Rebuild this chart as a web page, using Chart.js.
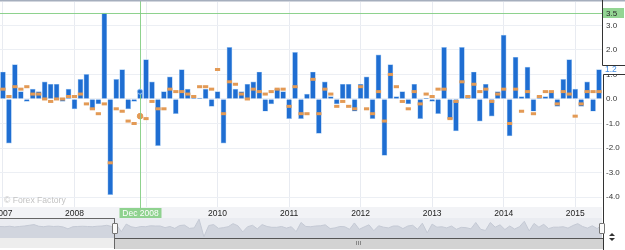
<!DOCTYPE html>
<html>
<head>
<meta charset="utf-8">
<script src="https://cdn.jsdelivr.net/npm/chart.js@4.4.1/dist/chart.umd.min.js"></script>
<style>
  html, body { margin: 0; padding: 0; background: #ffffff; }
  #wrap { position: relative; width: 625px; height: 250px; overflow: hidden; background: #fff; }
  #main { position: absolute; left: 0; top: 0; }
  #navbg { position: absolute; left: 0; top: 218px; width: 602px; height: 20px; background: #eaecf1; }
  #nav { position: absolute; left: 0; top: 218px; }
  #trackL { position: absolute; left: 0; top: 238px; width: 115px; height: 10px; background: #ededed; }
  #thumb { position: absolute; left: 115px; top: 238px; width: 488px; height: 11px; background: #d3d3d3; border-top: 1px solid #555; box-sizing: border-box; }
  #outlineL { position: absolute; left: 0; top: 218px; width: 115px; height: 31px; border-top: 1px solid #666; border-right: 1px solid #666; box-sizing: border-box; }
  #axisLow { position: absolute; left: 603px; top: 218px; width: 1px; height: 32px; background: #333; }
  .handle { position: absolute; top: 223px; width: 4px; height: 9px; background: #fafafa; border: 1px solid #777; border-radius: 1px; }
  #grip { position: absolute; left: 356px; top: 241px; width: 5px; height: 4px;
          background: repeating-linear-gradient(90deg, #888 0 1px, transparent 1px 2px); }
  .tri { position: absolute; left: 609px; width: 0; height: 0; border-left: 3px solid transparent; border-right: 3px solid transparent; }
  #up { top: 233px; border-bottom: 3px solid #333; }
  #down { top: 238px; border-top: 3px solid #333; }
</style>
</head>
<body>
<div id="wrap">
  <canvas id="main" width="625" height="218"></canvas>
  <div id="navbg"></div>
  <canvas id="nav" width="602" height="20"></canvas>
  <div id="trackL"></div>
  <div id="thumb"></div>
  <div id="grip"></div>
  <div id="outlineL"></div>
  <div id="axisLow"></div>
  <div class="handle" style="left:112px"></div>
  <div class="handle" style="left:599px"></div>
  <div class="tri" id="up"></div>
  <div class="tri" id="down"></div>
</div>
<script>
// ---------------- data ----------------
const monthNames = ['Jan','Feb','Mar','Apr','May','Jun','Jul','Aug','Sep','Oct','Nov','Dec'];
const years = ['2007','2008','2009','2010','2011','2012','2013','2014','2015'];

// actual values (blue bars), monthly Jan 2007 .. May 2015
const actual = [
  1.1, -1.8, 1.4, 0.3, -0.1, 0.4, 0.3, 0.7, 0.6, 0.6, -0.1, 0.4,   // 2007
  -0.4, 0.8, 1.0, -0.4, -0.2, 3.5, -3.9, 0.8, 1.2, -0.4, -0.1, 0.3, // 2008
  1.6, 0.7, -1.9, 0.3, 0.9, -0.6, 1.2, 0.4, 0.04, 0.04, 0.4, -0.3,  // 2009
  0.3, -1.8, 2.1, 0.4, 0.3, 0.6, 0.7, 1.1, -0.5, -0.2, 0.4, 0.3,    // 2010
  -0.8, 1.9, -0.8, 0.2, 1.1, -1.4, 0.7, 0.1, -0.2, 0.6, 0.6, -0.5,  // 2011
  0.6, 0.9, -0.8, 1.8, -2.3, 1.4, 0.1, 0.3, -0.2, 0.6, -0.8, 0.03,  // 2012
  -0.1, -0.6, 2.1, -0.8, -1.3, 2.1, 0.1, 1.1, -0.9, 0.6, -0.7, 0.3, // 2013
  2.6, -1.5, 1.7, 0.1, 1.3, -0.5, 0.1, 0.1, 0.3, -0.3, 0.8, 1.6,    // 2014
  0.4, -0.3, 0.7, -0.5, 1.2                                         // 2015
];

// forecast values (orange markers)
const forecast = [
  0.4, 0.1, 0.5, 0.4, 0.5, 0.2, 0.2, 0.0, -0.1, 0.0, 0.0, 0.1,
  0.1, 0.2, -0.2, -0.4, -0.6, -0.2, -2.6, -0.4, -0.5, -0.9, -1.0, -0.7,
  -0.8, -0.1, -0.4, -0.4, 0.4, 0.3, 0.3, 0.2, 0.1, 0.5, 0.5, 0.4,
  1.2, -0.6, 0.7, 0.6, 0.2, 0.0, 0.4, 0.3, 0.2, 0.3, 0.4, 0.4,
  -0.3, 0.5, -0.6, -0.6, 0.8, -0.6, 0.4, 0.2, -0.3, -0.1, -0.3, -0.4,
  0.5, -0.4, -0.6, 0.3, -0.9, 1.0, 0.5, -0.1, -0.4, 0.3, -0.2, 0.2,
  0.1, 0.4, 0.4, -0.8, -0.1, 0.7, 0.1, 0.6, 0.3, 0.4, -0.1, 0.2,
  0.4, -1.0, 0.4, -0.5, 0.3, -0.6, 0.1, 0.3, 0.3, -0.2, 0.3, 0.2,
  -0.7, -0.2, 0.3, 0.3, 0.3
];

// earlier history shown only in the navigator (2005-2006), estimated
const navHistory = [
  0.4, 0.3, 0.5, 0.2, 0.4, 0.6, 0.9, 1.2, 0.5, 0.3, 0.6, 0.4,
  0.5, 0.2, -0.6, 0.3, 0.4, 0.5, 0.4, 0.3, 0.5, 0.6, 0.9, 0.4
];

const yTicks = [-4, -3, -2, -1, 0, 1, 2, 3];
const crosshairLabel = 'Dec 2008';
const crosshairValue = 3.5;
const watermark = '\u00A9 Forex Factory';

// categories built from the year / month lists
const categories = years.flatMap(y => monthNames.map(m => m + ' ' + y)).slice(0, actual.length);

// ---------------- chart ----------------
Chart.defaults.font.family = "'Liberation Sans', Arial, sans-serif";
const FONT = "'Liberation Sans', Arial, sans-serif";
const crossIdx = categories.indexOf(crosshairLabel);

const deco = {
  id: 'deco',
  beforeDraw(chart) {
    const { ctx, chartArea: a } = chart;
    ctx.save();
    ctx.fillStyle = '#f2f3f6';
    ctx.fillRect(0, a.bottom, a.right, chart.height - a.bottom);
    ctx.restore();
  },
  afterDatasetsDraw(chart) {
    const { ctx, chartArea: a, scales: { x, y } } = chart;
    const cx = Math.round(x.getPixelForValue(crossIdx)) + 0.5;
    const cy = Math.round(y.getPixelForValue(crosshairValue)) + 0.5;
    ctx.save();
    ctx.strokeStyle = 'rgba(130,205,130,0.9)';
    ctx.lineWidth = 1;
    ctx.beginPath();
    ctx.moveTo(cx, 0); ctx.lineTo(cx, chart.height);
    ctx.moveTo(0, cy); ctx.lineTo(a.right, cy);
    ctx.stroke();
    // hover marker on the bar top
    const by = y.getPixelForValue(actual[crossIdx]);
    ctx.fillStyle = '#1f6ed2';
    ctx.strokeStyle = '#9cc4f0';
    ctx.beginPath(); ctx.arc(cx - 0.5, by, 2.6, 0, Math.PI * 2); ctx.fill(); ctx.stroke();
    ctx.restore();
  },
  afterDraw(chart) {
    const { ctx, chartArea: a, scales: { x, y } } = chart;
    const cx = Math.round(x.getPixelForValue(crossIdx)) + 0.5;
    const cy = Math.round(y.getPixelForValue(crosshairValue));
    ctx.save();
    // top border
    ctx.fillStyle = '#a5aebd';
    ctx.fillRect(0, 0, chart.width, 1.5);
    // crosshair value tag on the axis
    ctx.fillStyle = '#93d593';
    ctx.fillRect(a.right + 1, cy - 5, 21, 10);
    ctx.fillStyle = '#2a2a2a';
    ctx.font = '8px ' + FONT;
    ctx.textBaseline = 'middle';
    ctx.textAlign = 'left';
    ctx.fillText(crosshairValue.toFixed(1), a.right + 4, cy + 0.5);
    // crosshair date tag
    ctx.fillStyle = '#8fd28f';
    ctx.fillRect(cx - 21, a.bottom + 1, 42, 10);
    ctx.fillStyle = '#ffffff';
    ctx.font = '8.5px ' + FONT;
    ctx.textAlign = 'center';
    ctx.fillText(crosshairLabel, cx, a.bottom + 6.5);
    // last value tag + axis line
    const last = actual[actual.length - 1];
    const ly = y.getPixelForValue(last);
    const t = Math.round(ly - 4.5) + 0.5, b = Math.round(ly + 4.5) + 0.5;
    ctx.fillStyle = '#ffffff';
    ctx.fillRect(a.right + 1, t, chart.width, b - t);
    ctx.strokeStyle = '#333';
    ctx.lineWidth = 1;
    ctx.beginPath();
    ctx.moveTo(a.right + 0.5, 0); ctx.lineTo(a.right + 0.5, t); ctx.lineTo(chart.width, t);
    ctx.moveTo(chart.width, b); ctx.lineTo(a.right + 1.5, b); ctx.lineTo(a.right + 1.5, chart.height);
    ctx.stroke();
    ctx.fillStyle = '#3f8be3';
    ctx.font = '8.5px ' + FONT;
    ctx.textAlign = 'left';
    ctx.fillText(last.toFixed(1), a.right + 3, ly + 0.5);
    // watermark
    ctx.fillStyle = '#c3c3c3';
    ctx.font = '8.6px ' + FONT;
    ctx.fillText(watermark, 4, 201);
    ctx.restore();
  }
};

new Chart(document.getElementById('main'), {
  type: 'bar',
  data: {
    labels: categories,
    datasets: [
      {
        type: 'bar',
        label: 'Actual',
        data: actual,
        backgroundColor: '#1f6ed2',
        borderColor: '#9cc4f0',
        borderWidth: 0.7,
        borderSkipped: 'start',
        barThickness: 5,
        order: 2
      },
      {
        type: 'line',
        label: 'Forecast',
        data: forecast,
        showLine: false,
        clip: false,
        pointStyle: ctx => ctx.dataIndex === crossIdx ? 'circle' : 'line',
        pointRadius: ctx => ctx.dataIndex === crossIdx ? 2.8 : 2.6,
        pointBorderWidth: ctx => ctx.dataIndex === crossIdx ? 1 : 3,
        pointBorderColor: '#e39a55',
        pointBackgroundColor: '#e39a55',
        order: 1
      }
    ]
  },
  options: {
    responsive: false,
    animation: false,
    events: [],
    layout: { autoPadding: false, padding: { left: 0, right: 0, top: 2, bottom: 0 } },
    plugins: { legend: { display: false }, tooltip: { enabled: false } },
    scales: {
      x: {
        offset: true,
        grid: {
          offset: false,
          drawTicks: false,
          lineWidth: 1,
          color: c => (c.index % 12 === 0) ? '#e8ebf1' : 'rgba(0,0,0,0)'
        },
        border: { display: false },
        ticks: {
          autoSkip: false,
          maxRotation: 0,
          minRotation: 0,
          padding: 1.5,
          color: '#222',
          font: { size: 8.5 },
          callback: (v, i) => (i % 12 === 0) ? years[i / 12] : ''
        },
        afterFit: s => { s.height = 11; s.paddingLeft = 0; s.paddingRight = 0; }
      },
      y: {
        position: 'right',
        min: -4.4,
        max: 3.95,
        afterBuildTicks: s => { s.ticks = yTicks.map(v => ({ value: v })); },
        grid: { color: '#eceff4', drawTicks: false, lineWidth: 1 },
        border: { display: false },
        ticks: {
          padding: 4,
          color: '#333',
          font: { size: 8 },
          callback: v => Number(v).toFixed(1)
        },
        afterFit: s => { s.width = 23; s.paddingTop = 0; s.paddingBottom = 0; }
      }
    }
  },
  plugins: [deco]
});

// ---------------- navigator ----------------
const navData = navHistory.concat(actual);
new Chart(document.getElementById('nav'), {
  type: 'line',
  data: {
    labels: navData.map((_, i) => i),
    datasets: [{
      data: navData,
      fill: 'start',
      backgroundColor: '#d1d5de',
      borderColor: '#c4c9d4',
      borderWidth: 1,
      pointRadius: 0,
      tension: 0
    }]
  },
  options: {
    responsive: false,
    animation: false,
    events: [],
    layout: { autoPadding: false, padding: 0 },
    plugins: { legend: { display: false }, tooltip: { enabled: false } },
    scales: {
      x: { display: false, offset: false },
      y: { display: false, min: -4.5, max: 4 }
    }
  }
});
</script>
</body>
</html>
